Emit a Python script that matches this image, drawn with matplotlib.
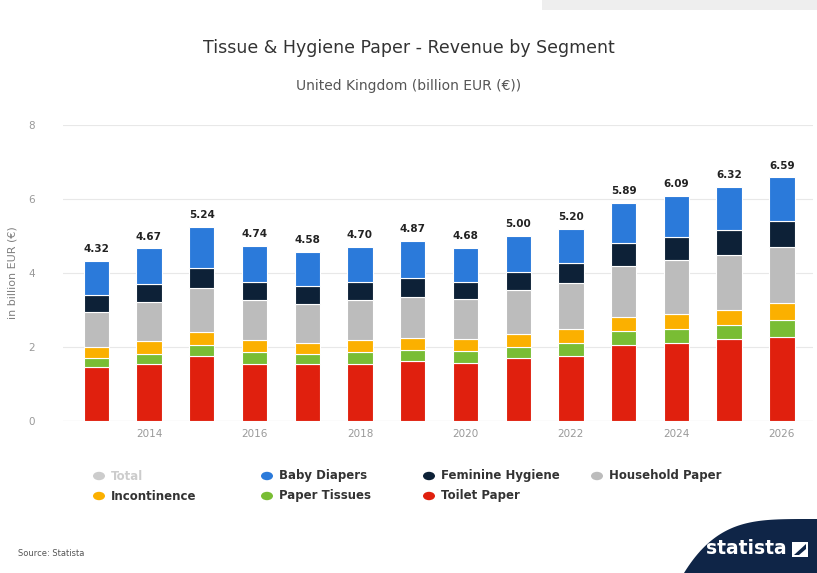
import matplotlib
matplotlib.use("Agg")
import matplotlib.pyplot as plt
from matplotlib.patches import Rectangle, Polygon, Circle
import numpy as np

years = [2013, 2014, 2015, 2016, 2017, 2018, 2019, 2020, 2021, 2022, 2023, 2024, 2025, 2026]
totals = [4.32, 4.67, 5.24, 4.74, 4.58, 4.70, 4.87, 4.68, 5.00, 5.20, 5.89, 6.09, 6.32, 6.59]
toilet_paper = [1.45, 1.55, 1.75, 1.55, 1.55, 1.55, 1.62, 1.58, 1.70, 1.76, 2.05, 2.10, 2.21, 2.28]
paper_tissues = [0.25, 0.27, 0.31, 0.31, 0.26, 0.31, 0.30, 0.31, 0.30, 0.36, 0.38, 0.38, 0.38, 0.45]
incontinence = [0.30, 0.33, 0.34, 0.34, 0.30, 0.32, 0.31, 0.33, 0.36, 0.36, 0.39, 0.41, 0.42, 0.45]
household_paper = [0.95, 1.06, 1.19, 1.06, 1.06, 1.08, 1.12, 1.08, 1.17, 1.24, 1.37, 1.46, 1.48, 1.53]
feminine_hygiene = [0.45, 0.49, 0.55, 0.50, 0.47, 0.50, 0.52, 0.47, 0.51, 0.54, 0.61, 0.61, 0.68, 0.70]
baby_diapers = [0.92, 0.97, 1.10, 0.98, 0.94, 0.94, 1.00, 0.91, 0.96, 0.94, 1.09, 1.13, 1.15, 1.18]

series = [
    ("Toilet Paper", toilet_paper, "#e0200e"),
    ("Paper Tissues", paper_tissues, "#79bd34"),
    ("Incontinence", incontinence, "#fbb000"),
    ("Household Paper", household_paper, "#bcbcbc"),
    ("Feminine Hygiene", feminine_hygiene, "#0d2137"),
    ("Baby Diapers", baby_diapers, "#2b7ada"),
]

W, H = 817, 573
fig = plt.figure(figsize=(W / 100, H / 100), dpi=100)
fig.patch.set_facecolor("white")

ax = fig.add_axes([63 / W, 1 - 421 / H, (813 - 63) / W, (421 - 125) / H])
ax.set_facecolor("white")

x = np.array(years)
bottom = np.zeros(len(years))
for name, vals, col in series:
    ax.bar(x, vals, width=0.48, bottom=bottom, color=col, edgecolor="white",
           linewidth=0.8, zorder=3)
    bottom += np.array(vals)

for xi, tot, top in zip(x, totals, bottom):
    ax.text(xi, top + 0.18, f"{tot:.2f}", ha="center", va="bottom",
            fontsize=7.5, fontweight="bold", color="#222222", zorder=4)

ax.set_xlim(2013 - 0.63, 2026 + 0.59)
ax.set_ylim(0, 8)
ax.set_yticks([0, 2, 4, 6, 8])
ax.set_yticklabels(["0", "2", "4", "6", "8"])
ax.set_xticks([2014, 2016, 2018, 2020, 2022, 2024, 2026])
ax.tick_params(axis="both", length=0, labelsize=7.5, colors="#999999")
ax.tick_params(axis="y", pad=20)
ax.tick_params(axis="x", pad=6)
ax.grid(axis="y", color="#e8e8e8", linewidth=0.8, zorder=0)
for s in ax.spines.values():
    s.set_visible(False)
ax.axhline(0, color="#dddddd", linewidth=0.8, zorder=2)
ax.set_ylabel("in billion EUR (€)", fontsize=8, color="#808080", labelpad=4)
ax.yaxis.set_label_coords(-45 / (813 - 63), 0.5)

fig.text(0.5, 1 - 48 / H, "Tissue & Hygiene Paper - Revenue by Segment",
         ha="center", va="center", fontsize=12.5, color="#333333")
fig.text(0.5, 1 - 86 / H, "United Kingdom (billion EUR (€))",
         ha="center", va="center", fontsize=10, color="#555555")

# legend
legend_items = [
    ("Total", "#cccccc", 99, 476, "#cccccc"),
    ("Baby Diapers", "#2b7ada", 267, 476, "#333333"),
    ("Feminine Hygiene", "#0d2137", 429, 476, "#333333"),
    ("Household Paper", "#bcbcbc", 597, 476, "#333333"),
    ("Incontinence", "#fbb000", 99, 496, "#333333"),
    ("Paper Tissues", "#79bd34", 267, 496, "#333333"),
    ("Toilet Paper", "#e0200e", 429, 496, "#333333"),
]
for label, col, px, py, tcol in legend_items:
    fig.patches.append(Circle((px / W, 1 - py / H), 6 / W, transform=fig.transFigure,
                              facecolor=col, edgecolor="none"))
    fig.text((px + 12) / W, 1 - py / H, label, ha="left", va="center",
             fontsize=8.5, fontweight="bold", color=tcol)

fig.text(18 / W, 1 - 553 / H, "Source: Statista", ha="left", va="center",
         fontsize=6, color="#555555")

# top-right gray strip
fig.patches.append(Rectangle((542 / W, 1 - 10 / H), (W - 542) / W, 10 / H,
                             transform=fig.transFigure, facecolor="#eeeeee",
                             edgecolor="none"))

# statista logo swoosh
t = np.linspace(0, 1, 60)
xs = 684 + t * (W - 684)
ys = 573 - (1 - (1 - t) ** 4) * 54
pts = [(xx / W, 1 - yy / H) for xx, yy in zip(xs, ys)]
pts += [(1, 0), (684 / W, 0)]
fig.patches.append(Polygon(pts, closed=True, transform=fig.transFigure,
                           facecolor="#0f2547", edgecolor="none"))
fig.text(746 / W, 1 - 549 / H, "statista", ha="center", va="center",
         fontsize=13.5, fontweight="bold", color="white", family="Liberation Sans Narrow")
fig.patches.append(Rectangle((792 / W, 1 - 557 / H), 16 / W, 15 / H,
                             transform=fig.transFigure, facecolor="white",
                             edgecolor="none"))
fig.patches.append(Polygon([(794 / W, 1 - 555 / H), (806 / W, 1 - 544 / H),
                            (806 / W, 1 - 549 / H), (799 / W, 1 - 555 / H)],
                           closed=True, transform=fig.transFigure,
                           facecolor="#0f2547", edgecolor="none"))

fig.savefig("out.png", dpi=100, facecolor="white")
